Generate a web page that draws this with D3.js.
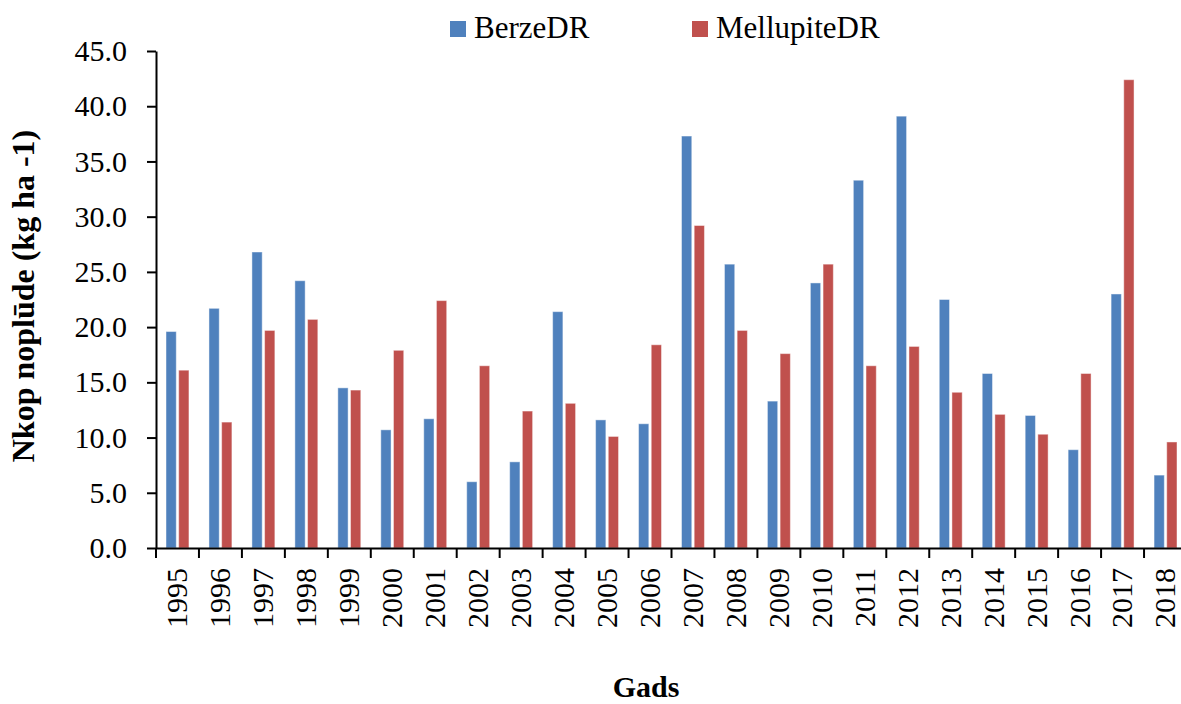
<!DOCTYPE html>
<meta charset="utf-8">
<style>
body { margin: 0; background: #fff; }
text { font-family: "Liberation Serif", "Times New Roman", serif; fill: #000; }
.axis text { font-size: 30px; }
.axis path, .axis line { stroke: #000; stroke-width: 2px; }
.title { font-size: 30px; font-weight: bold; }
.ytitle { font-size: 32px; }
.legend text { font-size: 31px; }
</style>
<svg width="1181" height="704"></svg>
<script src="https://d3js.org/d3.v7.min.js"></script>
<script>

var years = ["1995","1996","1997","1998","1999","2000","2001","2002","2003","2004","2005","2006",
             "2007","2008","2009","2010","2011","2012","2013","2014","2015","2016","2017","2018"];
var series = ["BerzeDR", "MellupiteDR"];
var berze = [19.6, 21.7, 26.8, 24.2, 14.5, 10.7, 11.7, 6.0, 7.8, 21.4, 11.6, 11.25,
             37.3, 25.7, 13.3, 24.0, 33.3, 39.1, 22.5, 15.8, 12.0, 8.9, 23.0, 6.6];
var mellupite = [16.1, 11.4, 19.7, 20.7, 14.3, 17.9, 22.4, 16.5, 12.4, 13.1, 10.1, 18.4,
                 29.2, 19.7, 17.6, 25.7, 16.5, 18.25, 14.1, 12.1, 10.3, 15.8, 42.4, 9.6];
var yTicks = [0, 5, 10, 15, 20, 25, 30, 35, 40, 45];
var colors = ["#4f81bd", "#c0504d"];

var svg = d3.select("svg");

var x0 = d3.scaleBand()
    .domain(years)
    .range([156, 1187]);

var x1 = d3.scaleBand()
    .domain(series)
    .range([0, x0.bandwidth()])
    .paddingInner(0.19)
    .paddingOuter(0.79);

var y = d3.scaleLinear()
    .domain([0, 45])
    .range([548, 51]);

var color = d3.scaleOrdinal().domain(series).range(colors);

var rows = years.map(function(d, i) {
  return {year: d, values: [{key: series[0], v: berze[i]}, {key: series[1], v: mellupite[i]}]};
});

// bars
svg.append("g").selectAll("g")
  .data(rows)
  .enter().append("g")
    .attr("transform", function(d) { return "translate(" + x0(d.year) + ",0)"; })
  .selectAll("rect")
  .data(function(d) { return d.values; })
  .enter().append("rect")
    .attr("x", function(d) { return x1(d.key); })
    .attr("y", function(d) { return y(d.v); })
    .attr("width", x1.bandwidth())
    .attr("height", function(d) { return y(0) - y(d.v); })
    .attr("fill", function(d) { return color(d.key); })
    .attr("stroke", "rgba(255,255,255,0.45)")
    .attr("stroke-width", 1);

// y axis
svg.append("g")
    .attr("class", "axis")
    .attr("transform", "translate(156,0)")
    .call(d3.axisLeft(y)
      .tickValues(yTicks)
      .tickSize(9)
      .tickSizeOuter(0)
      .tickPadding(20)
      .tickFormat(d3.format(".1f")));

// x axis with ticks between the categories
var xAxis = svg.append("g")
    .attr("class", "axis")
    .attr("transform", "translate(0,548)")
    .call(d3.axisBottom(x0).tickSize(0).tickSizeOuter(0));

xAxis.selectAll("text")
    .attr("transform", "rotate(-90)")
    .attr("x", -20)
    .attr("y", 0)
    .attr("dy", "0.33em")
    .style("text-anchor", "end");

xAxis.selectAll(".sep")
  .data(years.concat(["end"]))
  .enter().append("line")
    .attr("class", "sep")
    .attr("x1", function(d) { return d === "end" ? x0.range()[1] : x0(d); })
    .attr("x2", function(d) { return d === "end" ? x0.range()[1] : x0(d); })
    .attr("y1", 0)
    .attr("y2", 10);

// titles
svg.append("text")
    .attr("class", "title ytitle")
    .attr("transform", "translate(34,296) rotate(-90)")
    .attr("text-anchor", "middle")
    .text("Nkop noplūde (kg ha -1)");

svg.append("text")
    .attr("class", "title")
    .attr("x", 646)
    .attr("y", 697)
    .attr("text-anchor", "middle")
    .text("Gads");

// legend
var legendX = [450, 692];
var legend = svg.append("g").attr("class", "legend")
  .selectAll("g")
  .data(series)
  .enter().append("g")
    .attr("transform", function(d, i) { return "translate(" + legendX[i] + ",21)"; });

legend.append("rect")
    .attr("width", 16)
    .attr("height", 16)
    .attr("fill", function(d) { return color(d); });

legend.append("text")
    .attr("x", 24)
    .attr("y", 17)
    .text(function(d) { return d; });

</script>
